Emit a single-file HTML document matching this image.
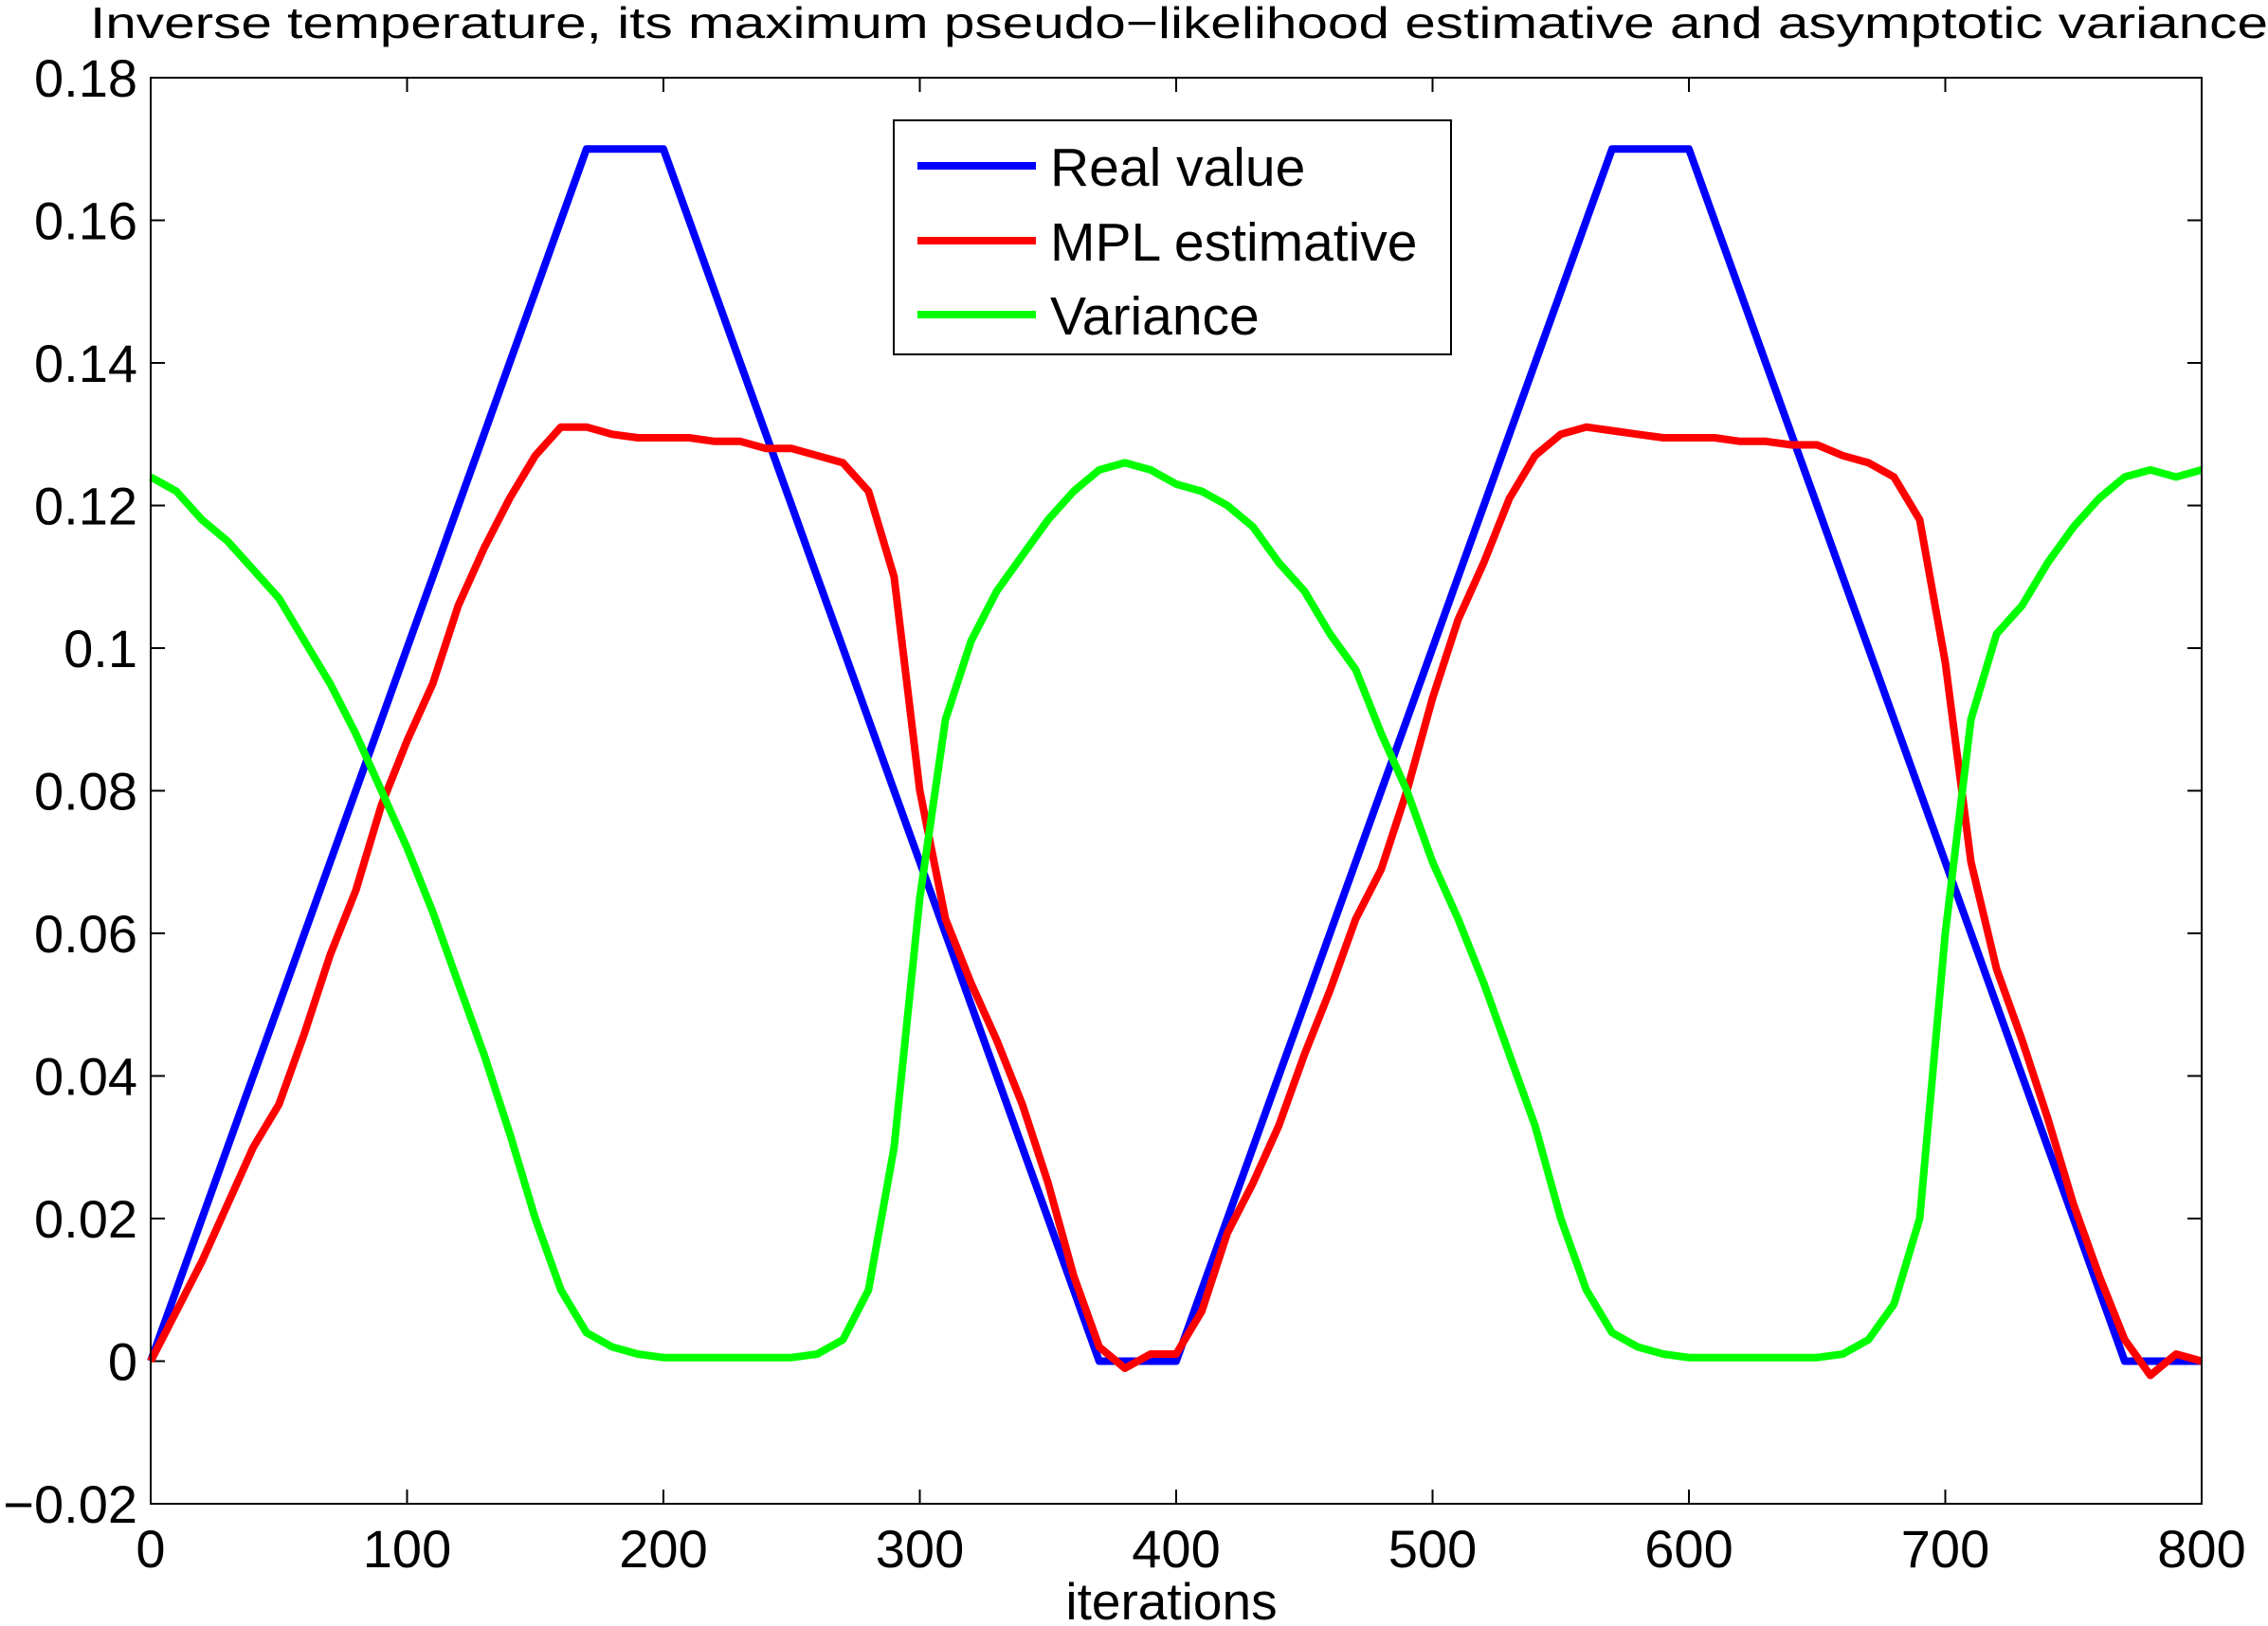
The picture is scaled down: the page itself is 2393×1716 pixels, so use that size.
<!DOCTYPE html>
<html><head><meta charset="utf-8"><style>
html,body{margin:0;padding:0;background:#fff;}
svg{display:block;font-family:"Liberation Sans",Arial,sans-serif;}
</style></head><body>
<svg id="chart" width="2393" height="1716" viewBox="0 0 2393 1716" xmlns="http://www.w3.org/2000/svg">
<rect width="2393" height="1716" fill="#fff"/>
<text x="95" y="40" font-size="46" textLength="2298" lengthAdjust="spacingAndGlyphs" fill="#000">Inverse temperature, its maximum pseudo−likelihood estimative and asymptotic variance</text>
<g id="grid"></g>
<g id="series"></g>
<rect x="159" y="82" width="2164" height="1505" fill="none" stroke="#000" stroke-width="2"/>
<g id="legend">
<rect x="943" y="127" width="588" height="247" fill="#fff" stroke="#000" stroke-width="2"/>
<line x1="968" y1="175" x2="1093" y2="175" stroke="#0000ff" stroke-width="8"/>
<text x="1108" y="196" font-size="57">Real value</text>
<line x1="968" y1="254" x2="1093" y2="254" stroke="#ff0000" stroke-width="8"/>
<text x="1108" y="275" font-size="57">MPL estimative</text>
<line x1="968" y1="332" x2="1093" y2="332" stroke="#00ff00" stroke-width="8"/>
<text x="1108" y="353" font-size="57">Variance</text>
</g>
<text x="1236" y="1709" font-size="55" text-anchor="middle">iterations</text>
</svg>
<script>
const xs = [0,10,20,30,40,50,60,70,80,90,100,110,120,130,140,150,160,170,180,190,200,210,220,230,240,250,260,270,280,290,300,310,320,330,340,350,360,370,380,390,400,410,420,430,440,450,460,470,480,490,500,510,520,530,540,550,560,570,580,590,600,610,620,630,640,650,660,670,680,690,700,710,720,730,740,750,760,770,780,790,800];
const realValue = [0,0.01,0.02,0.03,0.04,0.05,0.06,0.07,0.08,0.09,0.1,0.11,0.12,0.13,0.14,0.15,0.16,0.17,0.17,0.17,0.17,0.16,0.15,0.14,0.13,0.12,0.11,0.1,0.09,0.08,0.07,0.06,0.05,0.04,0.03,0.02,0.01,0,0,0,0,0.01,0.02,0.03,0.04,0.05,0.06,0.07,0.08,0.09,0.1,0.11,0.12,0.13,0.14,0.15,0.16,0.17,0.17,0.17,0.17,0.16,0.15,0.14,0.13,0.12,0.11,0.1,0.09,0.08,0.07,0.06,0.05,0.04,0.03,0.02,0.01,0,0,0,0];
const mplEstimate = [0,0.007,0.014,0.022,0.03,0.036,0.046,0.057,0.066,0.078,0.087,0.095,0.106,0.114,0.121,0.127,0.131,0.131,0.13,0.1295,0.1295,0.1295,0.129,0.129,0.128,0.128,0.127,0.126,0.122,0.11,0.08,0.062,0.053,0.045,0.036,0.025,0.012,0.002,-0.001,0.001,0.001,0.007,0.018,0.025,0.033,0.043,0.052,0.062,0.069,0.08,0.093,0.104,0.112,0.121,0.127,0.13,0.131,0.1305,0.13,0.1295,0.1295,0.1295,0.129,0.129,0.1285,0.1285,0.127,0.126,0.124,0.118,0.098,0.07,0.055,0.045,0.034,0.022,0.012,0.003,-0.002,0.001,0];
const variance = [0.124,0.122,0.118,0.115,0.111,0.107,0.101,0.095,0.088,0.08,0.072,0.063,0.053,0.043,0.032,0.02,0.01,0.004,0.002,0.001,0.0005,0.0005,0.0005,0.0005,0.0005,0.0005,0.001,0.003,0.01,0.03,0.065,0.09,0.101,0.108,0.113,0.118,0.122,0.125,0.126,0.125,0.123,0.122,0.12,0.117,0.112,0.108,0.102,0.097,0.088,0.08,0.07,0.062,0.053,0.043,0.033,0.02,0.01,0.004,0.002,0.001,0.0005,0.0005,0.0005,0.0005,0.0005,0.0005,0.001,0.003,0.008,0.02,0.06,0.09,0.102,0.106,0.112,0.117,0.121,0.124,0.125,0.124,0.125];
const xTicks = [0,100,200,300,400,500,600,700,800];
const yTicks = [-0.02,0,0.02,0.04,0.06,0.08,0.1,0.12,0.14,0.16,0.18];
const yTickLabels = ["−0.02","0","0.02","0.04","0.06","0.08","0.1","0.12","0.14","0.16","0.18"];

const L=159,R=2323,T=82,B=1587;
const sx = v => L + (v-0)/(800-0)*(R-L);
const sy = v => B - (v-(-0.02))/(0.18-(-0.02))*(B-T);
const NS="http://www.w3.org/2000/svg";
const g=document.getElementById('grid');
function mk(tag,attrs,parent){const e=document.createElementNS(NS,tag);for(const k in attrs)e.setAttribute(k,attrs[k]);parent.appendChild(e);return e;}
xTicks.forEach(t=>{
  const x=sx(t);
  const a=mk('line',{x1:x,y1:B,x2:x,y2:B-15,stroke:'#000','stroke-width':2},g);
  
  
  const b=mk('line',{x1:x,y1:T,x2:x,y2:T+15,stroke:'#000','stroke-width':2},g);
  
  
  const tx=mk('text',{x:x,y:B+67,'font-size':56,'text-anchor':'middle'},g);
  tx.textContent=t;
  
  
});
yTicks.forEach((t,i)=>{
  const y=sy(t);
  const a=mk('line',{x1:L,y1:y,x2:L+15,y2:y,stroke:'#000','stroke-width':2},g);
  
  
  const b=mk('line',{x1:R,y1:y,x2:R-15,y2:y,stroke:'#000','stroke-width':2},g);
  
  
  const tx=mk('text',{x:L-14,y:y+20,'font-size':56,'text-anchor':'end'},g);
  tx.textContent=yTickLabels[i];
  
  
});
const s=document.getElementById('series');
function line(vals,color,name){
  const d=vals.map((v,i)=>(i?'L':'M')+sx(xs[i]).toFixed(1)+','+sy(v).toFixed(1)).join(' ');
  const p=mk('path',{d:d,fill:'none',stroke:color,'stroke-width':8,'stroke-linejoin':'round'},s);
  
  
}
line(realValue,'#0000ff','real-value-line');
line(mplEstimate,'#ff0000','mpl-estimative-line');
line(variance,'#00ff00','variance-line');
</script>
</body></html>
